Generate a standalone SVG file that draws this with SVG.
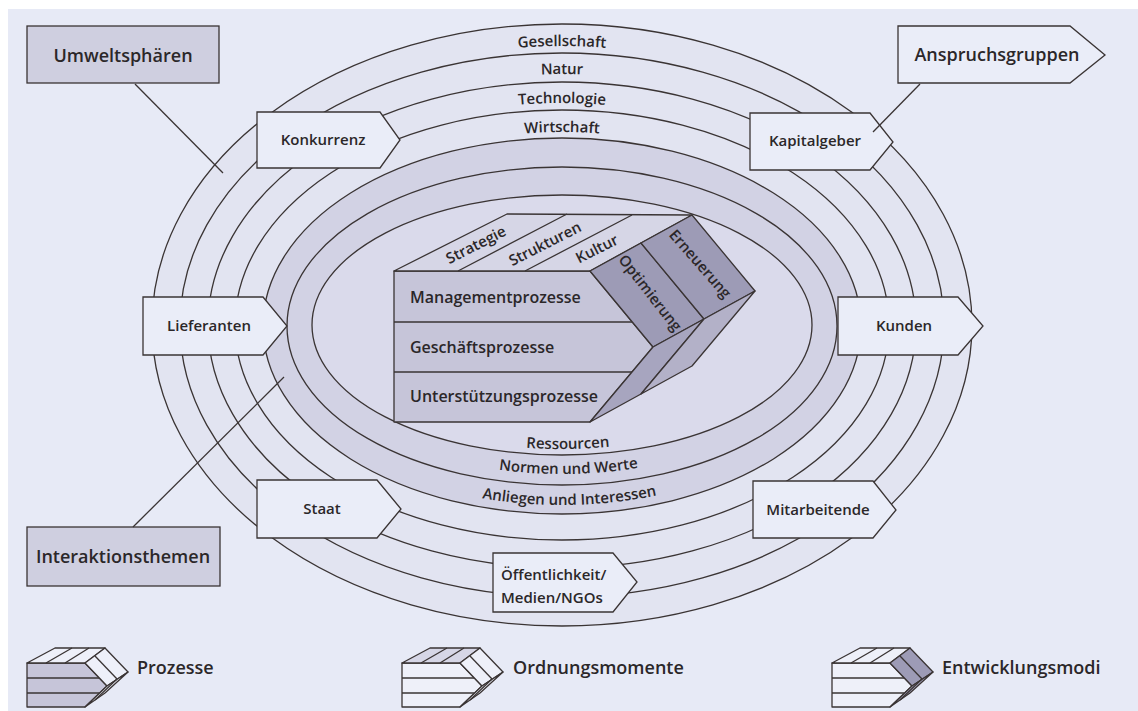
<svg xmlns="http://www.w3.org/2000/svg" xmlns:xlink="http://www.w3.org/1999/xlink" width="1138" height="711" viewBox="0 0 1138 711">
<style>
.ln{stroke:#3a3434;stroke-width:1.3;fill:none}
.ring{stroke:#3a3434;stroke-width:1.3}
.lt{fill:#e2e4f1}
.dk{fill:#d2d2e4}
.in{fill:#dadaeb}
.box{fill:#eaedf8;stroke:#3a3434;stroke-width:1.3}
.gbox{fill:#cfcfe0;stroke:#3a3434;stroke-width:1.3}
.f{stroke:#3a3434;stroke-width:1.3;stroke-linejoin:round}
.front{fill:#c6c5d9}
.top{fill:#d6d6e6}
.m1{fill:#9d9bb6}
.m2{fill:#a7a5bf}
.m3{fill:#b3b1c8}
.w{fill:#eef0f9}
text{font-family:"Open Sans","Liberation Sans",sans-serif;font-weight:600;fill:#2b2729}
.s15{font-size:15px}
.s16{font-size:16px}
.s18{font-size:18px}
.mid{text-anchor:middle}
</style>
<defs>
<path id="pG" d="M170,325 A392,279 0 0 1 954,325"/>
<path id="pN" d="M198,325 A364,251 0 0 1 926,325"/>
<path id="pT" d="M226,325 A336,222 0 0 1 898,325"/>
<path id="pW" d="M254,325 A308,193 0 0 1 870,325"/>
<path id="pR" d="M321,325 A241,124 0 0 0 803,325"/>
<path id="pNW" d="M296,325 A266,149 0 0 0 828,325"/>
<path id="pA" d="M270,325 A292,180 0 0 0 854,325"/>
</defs>
<rect x="0" y="0" width="1138" height="711" fill="#ffffff"/>
<rect x="8" y="9" width="1130" height="702" fill="#e7eaf6"/>

<g id="rings">
<ellipse class="ring lt" cx="562" cy="325" rx="410" ry="301"/>
<ellipse class="ring lt" cx="562" cy="325" rx="382" ry="272"/>
<ellipse class="ring lt" cx="562" cy="325" rx="354" ry="243"/>
<ellipse class="ring lt" cx="562" cy="325" rx="327" ry="215"/>
<ellipse class="ring dk" cx="562" cy="326" rx="299" ry="188"/>
<ellipse class="ring dk" cx="562" cy="326" rx="275" ry="159"/>
<ellipse class="ring in" cx="562" cy="325" rx="250" ry="130"/>
<text class="s15"><textPath href="#pG" startOffset="50%" text-anchor="middle">Gesellschaft</textPath></text>
<text class="s15"><textPath href="#pN" startOffset="50%" text-anchor="middle">Natur</textPath></text>
<text class="s15"><textPath href="#pT" startOffset="50%" text-anchor="middle">Technologie</textPath></text>
<text class="s15"><textPath href="#pW" startOffset="50%" text-anchor="middle">Wirtschaft</textPath></text>
<text class="s15"><textPath href="#pR" startOffset="51%" text-anchor="middle">Ressourcen</textPath></text>
<text class="s15"><textPath href="#pNW" startOffset="51%" text-anchor="middle">Normen und Werte</textPath></text>
<text class="s15"><textPath href="#pA" startOffset="51%" text-anchor="middle">Anliegen und Interessen</textPath></text>
</g>

<g id="block">
<path class="f front" d="M394,271 H590 L653,347 L590,422 H394 Z"/>
<path class="ln" d="M394,322 H632 M394,372 H632"/>
<path class="f top" d="M394,271 L507,214 L692,215 L590,271 Z"/>
<path class="ln" d="M458,271 L567,214 M525,271 L632,215"/>
<path class="f m1" d="M590,271 L641,243 L704,319 L653,347 Z"/>
<path class="f m1" d="M641,243 L692,215 L755,291 L704,319 Z"/>
<path class="f m2" d="M653,347 L704,319 L641,394 L590,422 Z"/>
<path class="f m3" d="M704,319 L755,291 L692,366 L641,394 Z"/>
<text class="s16" x="410" y="303">Managementprozesse</text>
<text class="s16" x="410" y="353">Geschäftsprozesse</text>
<text class="s16" x="410" y="402">Unterstützungsprozesse</text>
<text class="s15 mid" transform="translate(476,245) rotate(-27)" y="5">Strategie</text>
<text class="s15 mid" transform="translate(545,244) rotate(-27)" y="5">Strukturen</text>
<text class="s15 mid" transform="translate(597,249) rotate(-27)" y="5">Kultur</text>
<text class="s15 mid" transform="translate(650,293) rotate(52)" y="5">Optimierung</text>
<text class="s15 mid" transform="translate(700,264) rotate(49)" y="5">Erneuerung</text>
</g>

<g id="umweltsphaeren">
<rect class="gbox" x="27" y="26" width="192" height="57"/>
<text class="s18 mid" x="123" y="62">Umweltsphären</text>
</g>
<g id="interaktionsthemen">
<rect class="gbox" x="27" y="527" width="193" height="59"/>
<text class="s18 mid" x="123" y="563">Interaktionsthemen</text>
</g>
<g id="anspruchsgruppen">
<path class="box" d="M898,26 H1070 L1105,55 L1070,83 H898 Z"/>
<text class="s18 mid" x="997" y="61">Anspruchsgruppen</text>
</g>
<g id="konkurrenz">
<path class="box" d="M257,112 H380 L400,140 L380,168 H257 Z"/>
<text class="s15 mid" x="323" y="145">Konkurrenz</text>
</g>
<g id="kapitalgeber">
<path class="box" d="M750,113 H870 L893,142 L870,170 H750 Z"/>
<text class="s15 mid" x="815" y="146">Kapitalgeber</text>
</g>
<g id="lieferanten">
<path class="box" d="M143,297 H263 L287,326 L263,355 H143 Z"/>
<text class="s15 mid" x="209" y="331">Lieferanten</text>
</g>
<g id="kunden">
<path class="box" d="M838,297 H958 L983,326 L958,355 H838 Z"/>
<text class="s15 mid" x="904" y="331">Kunden</text>
</g>
<g id="staat">
<path class="box" d="M257,480 H377 L401,509 L377,538 H257 Z"/>
<text class="s15 mid" x="322" y="514">Staat</text>
</g>
<g id="mitarbeitende">
<path class="box" d="M753,481 H873 L896,510 L873,538 H753 Z"/>
<text class="s15 mid" x="818" y="515">Mitarbeitende</text>
</g>
<g id="oeffentlichkeit">
<path class="box" d="M493,553 H613 L637,582 L613,612 H493 Z"/>
<text class="s15" x="501" y="580">Öffentlichkeit/</text>
<text class="s15" x="501" y="603">Medien/NGOs</text>
</g>

<g id="connectors">
<path class="ln" d="M135,84 L223,173"/>
<path class="ln" d="M133,527 L284,377"/>
<path class="ln" d="M920,84 L873,132"/>
</g>

<g id="legend-prozesse" transform="translate(27,648)">
<path class="f front" d="M0,15 H58 L80,38 L58,59 H0 Z"/>
<path class="ln" d="M0,30 H72 M0,45 H72"/>
<path class="f w" d="M0,15 L28,0 L78,0 L58,15 Z"/>
<path class="ln" d="M19,15 L45,0 M38,15 L62,0"/>
<path class="f w" d="M58,15 L78,0 L101,24 L80,38 Z"/>
<path class="ln" d="M68,8 L90,31"/>
<path class="f w" d="M80,38 L101,24 L78,45 L58,59 Z"/>
<path class="ln" d="M90,31 L68,52"/>
</g>
<text class="s18" x="137" y="674">Prozesse</text>

<g id="legend-ordnungsmomente" transform="translate(402,648)">
<path class="f w" d="M0,15 H58 L80,38 L58,59 H0 Z"/>
<path class="ln" d="M0,30 H72 M0,45 H72"/>
<path class="f top" d="M0,15 L28,0 L78,0 L58,15 Z"/>
<path class="ln" d="M19,15 L45,0 M38,15 L62,0"/>
<path class="f w" d="M58,15 L78,0 L101,24 L80,38 Z"/>
<path class="ln" d="M68,8 L90,31"/>
<path class="f w" d="M80,38 L101,24 L78,45 L58,59 Z"/>
<path class="ln" d="M90,31 L68,52"/>
</g>
<text class="s18" x="513" y="674">Ordnungsmomente</text>

<g id="legend-entwicklungsmodi" transform="translate(832,648)">
<path class="f w" d="M0,15 H58 L80,38 L58,59 H0 Z"/>
<path class="ln" d="M0,30 H72 M0,45 H72"/>
<path class="f w" d="M0,15 L28,0 L78,0 L58,15 Z"/>
<path class="ln" d="M19,15 L45,0 M38,15 L62,0"/>
<path class="f m1" d="M58,15 L78,0 L101,24 L80,38 Z"/>
<path class="ln" d="M68,8 L90,31"/>
<path class="f m2" d="M80,38 L101,24 L78,45 L58,59 Z"/>
<path class="ln" d="M90,31 L68,52"/>
</g>
<text class="s18" x="942" y="674">Entwicklungsmodi</text>
</svg>
